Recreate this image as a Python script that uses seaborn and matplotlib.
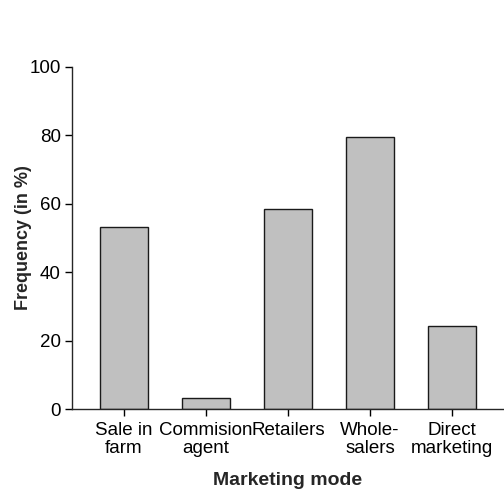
import matplotlib
matplotlib.use('Agg')
import matplotlib.pyplot as plt
import pandas as pd
import seaborn as sns

modes = ['Sale in\nfarm', 'Commision\nagent', 'Retailers', 'Whole-\nsalers', 'Direct\nmarketing']
freq = [53.2, 3.2, 58.3, 79.4, 24.3]

df = pd.DataFrame({'Marketing mode': modes, 'Frequency': freq})

sns.set_style('ticks')
plt.rcParams['font.family'] = ['Liberation Sans', 'DejaVu Sans']

fig = plt.figure(figsize=(5.04, 4.91), dpi=100)
ax = fig.add_axes([0.143, 0.167, 0.857, 0.697])

sns.barplot(x='Marketing mode', y='Frequency', data=df, color='#c0c0c0',
            edgecolor='#1a1a1a', linewidth=1.0, width=0.59, saturation=1, ax=ax)

ax.set_ylim(0, 100)
ax.set_xlim(-0.63, 4.63)
ax.set_yticks([0, 20, 40, 60, 80, 100])
ax.tick_params(axis='both', labelsize=13.5, length=5, width=1, colors='black',
               pad=3)
ax.tick_params(axis='x', pad=4)
for lbl in ax.get_xticklabels():
    lbl.set_linespacing(1.1)

ax.set_ylabel('Frequency (in %)', fontsize=13, fontweight='bold', labelpad=-2)
ax.set_xlabel('Marketing mode', fontsize=14, fontweight='bold', labelpad=11)

sns.despine(ax=ax)
ax.spines['left'].set_linewidth(1)
ax.spines['bottom'].set_linewidth(1)

fig.savefig('out.png', dpi=100)
